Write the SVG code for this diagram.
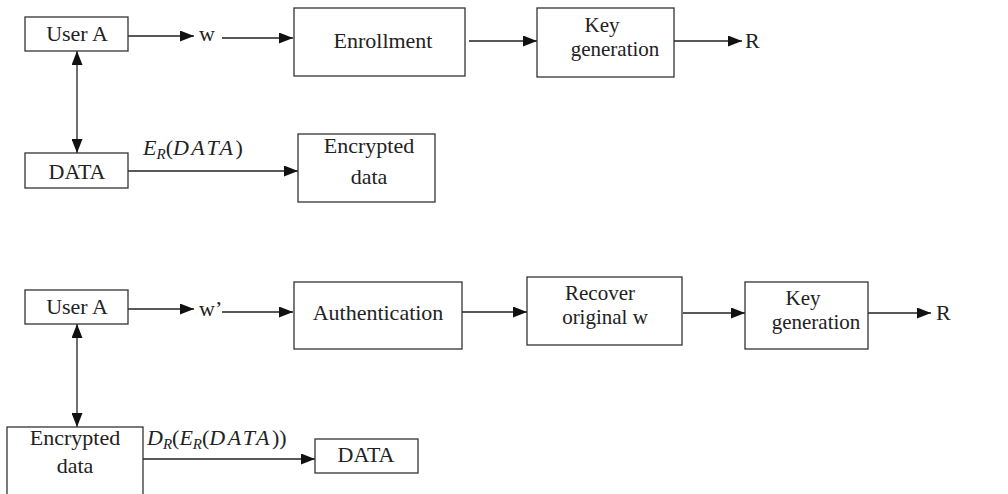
<svg xmlns="http://www.w3.org/2000/svg" width="1008" height="494" viewBox="0 0 1008 494">
<style>
.box{fill:#fff;stroke:#333;stroke-width:1.3}
text{font-family:'Liberation Serif','Times New Roman',serif;font-size:22px;fill:#222}
.c{text-anchor:middle}
.m{font-size:21px}
.i{font-style:italic}
.s{font-size:15px;font-style:italic}
.ln{fill:none;stroke:#222;stroke-width:1.3}
</style>
<defs>
<marker id="ah" markerWidth="15" markerHeight="11" refX="14" refY="5.5" orient="auto-start-reverse" markerUnits="userSpaceOnUse">
<path d="M0,0 L14,5.5 L0,11 Z" fill="#111"/>
</marker>
</defs>
<g id="connectors">
<line class="ln" x1="128" y1="36" x2="194" y2="36" marker-end="url(#ah)"/>
<line class="ln" x1="222" y1="38" x2="293" y2="38" marker-end="url(#ah)"/>
<line class="ln" x1="469" y1="41" x2="537" y2="41" marker-end="url(#ah)"/>
<line class="ln" x1="674" y1="41" x2="742" y2="41" marker-end="url(#ah)"/>
<line class="ln" x1="77" y1="51" x2="77" y2="153" marker-start="url(#ah)" marker-end="url(#ah)"/>
<line class="ln" x1="128" y1="171" x2="298" y2="171" marker-end="url(#ah)"/>
<line class="ln" x1="128" y1="309" x2="194" y2="309" marker-end="url(#ah)"/>
<line class="ln" x1="222" y1="312" x2="293" y2="312" marker-end="url(#ah)"/>
<line class="ln" x1="462" y1="312" x2="527" y2="312" marker-end="url(#ah)"/>
<line class="ln" x1="683" y1="313" x2="745" y2="313" marker-end="url(#ah)"/>
<line class="ln" x1="868" y1="313" x2="931" y2="313" marker-end="url(#ah)"/>
<line class="ln" x1="77" y1="324" x2="77" y2="427" marker-start="url(#ah)" marker-end="url(#ah)"/>
<line class="ln" x1="143" y1="459" x2="315" y2="459" marker-end="url(#ah)"/>
</g>
<g id="labels">
<text x="199" y="41">w</text>
<text x="745" y="48">R</text>
<text x="143" y="155"><tspan class="i">E</tspan><tspan class="s" dy="4">R</tspan><tspan dy="-4">(</tspan><tspan class="i" letter-spacing="2.5">DATA</tspan>)</text>
<text x="199" y="316">w’</text>
<text x="936" y="320">R</text>
<text x="147" y="445"><tspan class="i">D</tspan><tspan class="s" dy="4">R</tspan><tspan dy="-4">(</tspan><tspan class="i">E</tspan><tspan class="s" dy="4">R</tspan><tspan dy="-4">(</tspan><tspan class="i" letter-spacing="2.5">DATA</tspan>))</text>
</g>
<g id="userA1">
<rect class="box" x="25" y="17" width="103" height="34"/>
<text class="c" x="77" y="41">User A</text>
</g>
<g id="enrollment">
<rect class="box" x="294" y="8" width="171" height="68"/>
<text class="c" x="383" y="48">Enrollment</text>
</g>
<g id="keygen1">
<rect class="box" x="537" y="8" width="137" height="69"/>
<text class="c m" x="602" y="32">Key</text>
<text class="c m" x="615" y="56">generation</text>
</g>
<g id="data1">
<rect class="box" x="25" y="153" width="103" height="35"/>
<text class="c" x="77" y="179">DATA</text>
</g>
<g id="encrypted1">
<rect class="box" x="298" y="134" width="137" height="68"/>
<text class="c" x="369" y="153">Encrypted</text>
<text class="c" x="369" y="184">data</text>
</g>
<g id="userA2">
<rect class="box" x="25" y="290" width="103" height="34"/>
<text class="c" x="77" y="314">User A</text>
</g>
<g id="authentication">
<rect class="box" x="294" y="282" width="168" height="67"/>
<text class="c" x="378" y="320">Authentication</text>
</g>
<g id="recover">
<rect class="box" x="527" y="277" width="155" height="68"/>
<text class="c m" x="600" y="300">Recover</text>
<text class="c m" x="605" y="324">original w</text>
</g>
<g id="keygen2">
<rect class="box" x="745" y="282" width="123" height="67"/>
<text class="c m" x="803" y="305">Key</text>
<text class="c m" x="816" y="329">generation</text>
</g>
<g id="encrypted2">
<rect class="box" x="7" y="427" width="136" height="80"/>
<text class="c" x="75" y="445">Encrypted</text>
<text class="c" x="75" y="473">data</text>
</g>
<g id="data2">
<rect class="box" x="315" y="439" width="103" height="34"/>
<text class="c" x="366" y="462">DATA</text>
</g>
</svg>
